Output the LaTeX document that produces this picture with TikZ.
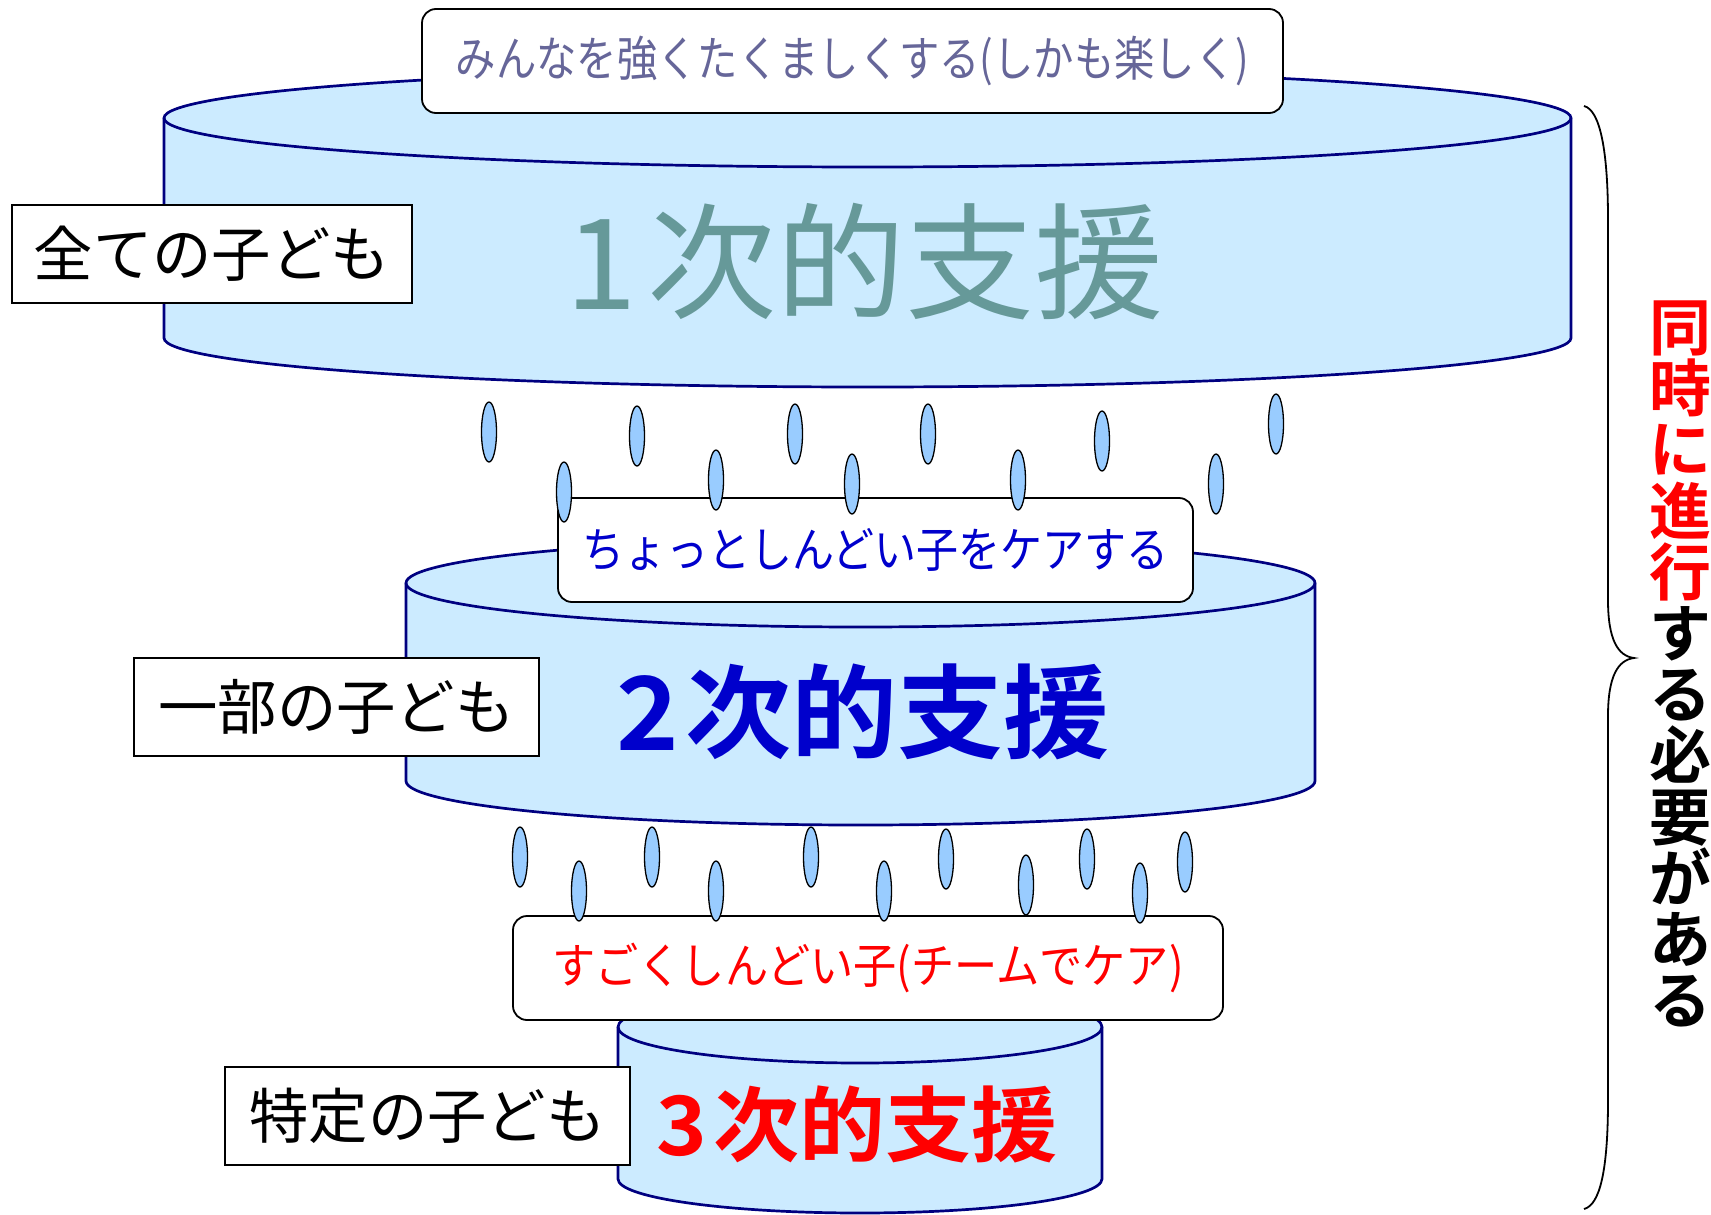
\documentclass[tikz,border=0pt]{standalone}
\usepackage{fontspec}
\usepackage{graphicx}
\newfontfamily\jp{Noto Sans CJK JP}
\newfontfamily\jpb{Noto Sans CJK JP Bold}
\definecolor{cylfill}{HTML}{CCEBFF}
\definecolor{cylline}{HTML}{000080}
\definecolor{dropfill}{HTML}{99CCFF}
\definecolor{slate}{HTML}{666699}
\definecolor{teal1}{HTML}{669999}
\definecolor{blue2}{HTML}{0000CC}
\definecolor{red3}{HTML}{FF0000}
\newcommand\hsq[2]{\scalebox{#1}[1]{#2}}
\newcommand\fs[1]{\fontsize{#1}{#1}\selectfont}
\begin{document}
\begin{tikzpicture}[x=1pt,y=1pt,
  cyl/.style={fill=cylfill,draw=cylline,line width=2.7pt},
  roundbox/.style={draw=black,fill=white,line width=1.8pt,rounded corners=14pt,inner sep=0pt},
  labelbox/.style={draw=black,fill=white,line width=1.8pt,inner sep=0pt,minimum width=400pt,minimum height=98pt},
  drop/.style={fill=dropfill,draw=black,line width=1.3pt},
  bigtext/.style={inner sep=0pt,anchor=east}
]
\useasboundingbox (0,0) rectangle (1711,-1215);

% ---------- cylinder 1 ----------
\path[cyl] (164,-118) -- (164,-338) arc[start angle=180,end angle=360,x radius=703.5,y radius=49]
  -- (1571,-118) arc[start angle=0,end angle=180,x radius=703.5,y radius=49] -- cycle;
\draw[cylline,line width=2.7pt] (164,-118) arc[start angle=180,end angle=360,x radius=703.5,y radius=49];
\node[bigtext,text=teal1,font=\jp\fs{126}] (t1) at (1164,-262) {\hsq{1.025}{1\kern10pt次的支援}};
\node[roundbox,minimum width=861pt,minimum height=104pt] (b1) at (852.5,-61)
  {\color{slate}\jp\fs{48}\raisebox{-5pt}{\hsq{0.84}{みんなを強くたくましくする(しかも楽しく)}}};
\node[labelbox] (l1) at (212,-254) {\jp\fs{60}\hsq{0.99}{全ての子ども}};

% ---------- cylinder 2 ----------
\path[cyl] (406,-583) -- (406,-781) arc[start angle=180,end angle=360,x radius=454.5,y radius=44]
  -- (1315,-583) arc[start angle=0,end angle=180,x radius=454.5,y radius=44] -- cycle;
\draw[cylline,line width=2.7pt] (406,-583) arc[start angle=180,end angle=360,x radius=454.5,y radius=44];
\node[bigtext,text=blue2,font=\jpb\fs{102}] (t2) at (1110,-712) {\hsq{1.04}{2\kern6pt次的支援}};
\node[roundbox,minimum width=635pt,minimum height=104pt] (b2) at (875.5,-550)
  {\color{blue2}\jp\fs{48}\raisebox{-2pt}{\hsq{0.875}{ちょっとしんどい子をケアする}}};
\node[labelbox,minimum width=405pt] (l2) at (336.5,-707) {\jp\fs{60}\hsq{0.99}{一部の子ども}};

% drops set 1
\foreach \dx/\dy in {489/432,564/492,637/436,716/480,795/434,852/484,928/434,1018/480,1102/441,1216/484,1276/424}
  \draw[drop] (\dx,-\dy) ellipse[x radius=7.5,y radius=30];

% ---------- cylinder 3 ----------
\path[cyl] (618,-1027) -- (618,-1179) arc[start angle=180,end angle=360,x radius=242,y radius=34]
  -- (1102,-1027) arc[start angle=0,end angle=180,x radius=242,y radius=36] -- cycle;
\draw[cylline,line width=2.7pt] (618,-1027) arc[start angle=180,end angle=360,x radius=242,y radius=36];
\node[bigtext,text=red3,font=\jpb\fs{82}] (t3) at (1058,-1124) {\hsq{1.05}{3\kern6pt次的支援}};
\node[roundbox,minimum width=710pt,minimum height=104pt] (b3) at (868,-968)
  {\color{red3}\jp\fs{48}\raisebox{-6pt}{\hsq{0.9}{すごくしんどい子(チームでケア)}}};
\node[labelbox,minimum width=405pt] (l3) at (427.5,-1116) {\jp\fs{60}\hsq{0.99}{特定の子ども}};

% drops set 2
\foreach \dx/\dy in {520/857,579/891,652/857,716/891,811/857,884/891,946/859,1026/885,1087/859,1140/893,1185/862}
  \draw[drop] (\dx,-\dy) ellipse[x radius=7.5,y radius=30];

% ---------- brace ----------
\coordinate (bt) at (1584,-106);
\coordinate (bm) at (1634,-658);
\coordinate (bb) at (1584,-1209);
\draw[line width=1.8pt] (bt) .. controls (1600,-110) and (1608,-150) .. (1608,-220) -- (1608,-600)
  .. controls (1608,-640) and (1618,-656) .. (bm)
  .. controls (1618,-660) and (1608,-676) .. (1608,-716) -- (1608,-1100)
  .. controls (1608,-1170) and (1600,-1205) .. (bb);

\node[inner sep=0pt,align=center,font=\jpb\fontsize{62}{61.2}\selectfont] (vt) at (1680,-664)
  {\color{red3}同\\\color{red3}時\\\color{red3}に\\\color{red3}進\\\color{red3}行\\す\\る\\必\\要\\が\\あ\\る};
\end{tikzpicture}
\end{document}
